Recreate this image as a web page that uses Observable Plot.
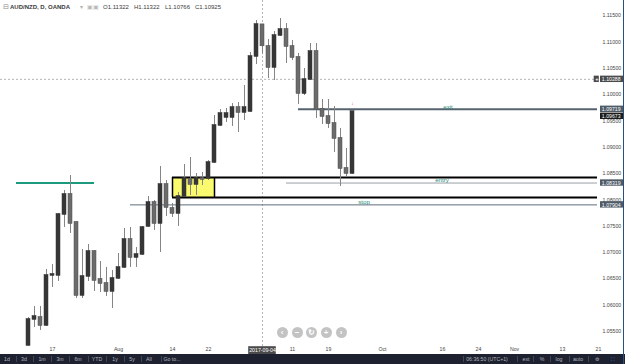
<!DOCTYPE html>
<html><head><meta charset="utf-8">
<script src="https://cdn.jsdelivr.net/npm/d3@7"></script>
<script src="https://cdn.jsdelivr.net/npm/@observablehq/plot@0.6"></script>
<style>
body{margin:0;background:#fff;font-family:"Liberation Sans",Arial,sans-serif;}
#wrap{position:relative;width:625px;height:364px;overflow:hidden;background:#fff;}
#chart svg{display:block;}
.lg{position:absolute;top:4px;font-size:6px;color:#3a3a3a;white-space:nowrap;line-height:7px;}
.nav{position:absolute;top:327px;width:11px;height:11px;border-radius:50%;background:#c3c3c3;color:#fff;font-size:8px;font-weight:bold;line-height:11px;text-align:center;}
#toolbar{position:absolute;left:0;top:354px;width:625px;height:10px;background:#1e2230;}
.tb{position:absolute;top:2px;font-size:5.2px;color:#b2b5be;transform:translateX(-50%);white-space:nowrap;line-height:6px;}
.sep{position:absolute;top:2px;width:1px;height:6px;background:#434651;}
#edge{position:absolute;left:623px;top:0;width:1px;height:364px;background:#27507c;}
</style></head>
<body><div id="wrap"><div id="chart"></div></div>
<script>
// ---- data (AUD/NZD, D, OANDA) ----
const dates = ["2017-07-11","2017-07-12","2017-07-13","2017-07-14","2017-07-17","2017-07-18","2017-07-19","2017-07-20","2017-07-21",
"2017-07-24","2017-07-25","2017-07-26","2017-07-27","2017-07-28","2017-07-31","2017-08-01","2017-08-02","2017-08-03","2017-08-04",
"2017-08-07","2017-08-08","2017-08-09","2017-08-10","2017-08-11","2017-08-14","2017-08-15","2017-08-16","2017-08-17","2017-08-18",
"2017-08-21","2017-08-22","2017-08-23","2017-08-24","2017-08-25","2017-08-28","2017-08-29","2017-08-30","2017-08-31","2017-09-01",
"2017-09-04","2017-09-05","2017-09-06","2017-09-07","2017-09-08","2017-09-11","2017-09-12","2017-09-13","2017-09-14","2017-09-15",
"2017-09-18","2017-09-19","2017-09-20","2017-09-21","2017-09-22","2017-09-25"];
const open  = [1.05235,1.05728,1.05766,1.05614,1.06564,1.06564,1.07722,1.08102,1.07570,
1.06184,1.06545,1.07019,1.06488,1.06412,1.06260,1.06507,1.06716,1.07247,1.06905,
1.06962,1.07494,1.07950,1.07551,1.08291,1.07836,1.07741,1.08064,1.08386,1.08291,
1.08405,1.08405,1.08709,1.09412,1.09563,1.09563,1.09753,1.09658,1.09677,1.10722,
1.11322,1.10911,1.10513,1.11120,1.11234,1.10911,1.10703,1.10019,1.10285,1.10817,
1.09715,1.09582,1.09449,1.09165,1.08595,1.08500];
const high  = [1.05766,1.05975,1.05975,1.06678,1.06772,1.07741,1.08177,1.08462,1.07589,
1.07057,1.07152,1.07038,1.06829,1.06716,1.06659,1.06981,1.07456,1.07475,1.07095,
1.07494,1.08064,1.07988,1.08633,1.08367,1.07931,1.08139,1.08671,1.08804,1.08500,
1.08519,1.08747,1.09601,1.09715,1.09734,1.09829,1.09848,1.10171,1.10798,1.11405,
1.11322,1.11044,1.11196,1.11443,1.11348,1.11025,1.10779,1.10494,1.10968,1.10968,
1.09905,1.09905,1.09772,1.09355,1.08975,1.09673];
const low   = [1.05216,1.05576,1.05520,1.05595,1.06336,1.06450,1.07475,1.07361,1.06127,
1.06127,1.06450,1.06260,1.06241,1.06165,1.05937,1.06488,1.06697,1.06716,1.06716,
1.06943,1.07475,1.07418,1.07000,1.07684,1.07665,1.07494,1.08045,1.08083,1.08083,
1.08272,1.08367,1.08690,1.09393,1.09468,1.09393,1.09279,1.09506,1.09658,1.10570,
1.10766,1.10304,1.10266,1.11101,1.10589,1.10646,1.09810,1.09981,1.10266,1.09544,
1.09430,1.09355,1.08899,1.08253,1.08443,1.08481];
const close = [1.05728,1.05785,1.05614,1.06564,1.06583,1.07722,1.08102,1.07551,1.06184,
1.06545,1.07019,1.06469,1.06412,1.06260,1.06507,1.06716,1.07247,1.06905,1.06962,
1.07475,1.07950,1.07551,1.08291,1.07855,1.07741,1.08064,1.08405,1.08291,1.08405,
1.08386,1.08709,1.09412,1.09639,1.09639,1.09753,1.09658,1.09753,1.10722,1.11329,
1.10925,1.10513,1.11120,1.11234,1.10911,1.10703,1.10019,1.10285,1.10817,1.09715,
1.09582,1.09449,1.09165,1.08595,1.08500,1.09673];

const xTickDates  = ["2017-07-17","2017-08-01","2017-08-14","2017-08-22","2017-09-11","2017-09-19","2017-10-02","2017-10-16","2017-10-24","2017-11-01","2017-11-13","2017-11-21"];
const xTickLabels = ["17","Aug","14","22","11","19","Oct","16","24","Nov","13","21"];
const yTickValues = [1.055,1.060,1.065,1.070,1.075,1.080,1.085,1.090,1.095,1.100,1.105,1.110,1.115];

const levelNames  = ["exit","entry","stop"];
const levelPrices = [1.09719,1.08319,1.07904];
const levelStarts = ["2017-09-12","2017-09-08","2017-08-03"];
const zoneDates   = ["2017-08-14","2017-08-23"];
const zonePrices  = [1.08045,1.08424];
const markDates   = ["2017-07-07","2017-07-26"];
const markPrice   = 1.08319;
const crossDate   = "2017-09-04";
const crossPrice  = 1.10288;
const crossLabel  = "2017-09-04";
const lastPrice   = 1.09673;
const legendOHLC  = ["O1.11322","H1.11322","L1.10766","C1.10925"];

// ---- helpers ----
const base = Date.UTC(2017,6,17); // Monday
function tIndex(s){ // trading-day index (weekdays only)
  const n = Math.round((Date.parse(s+"T00:00:00Z")-base)/864e5);
  const w = Math.floor(n/7), r = n-7*w;
  return w*5 + Math.min(r,5);
}
const rows = dates.map((d,k)=>({i:tIndex(d), o:open[k], h:high[k], l:low[k], c:close[k]}));
const levels = levelNames.map((n,k)=>({name:n, price:levelPrices[k], start:tIndex(levelStarts[k])}));
const xTicks = xTickDates.map(tIndex);

const W = 625, H = 354, MB = 8, MR = 28;
const xDomain = [-8.6667, 90.8333];
const yDomain = [1.05215, 1.11785];
const pxY = (H-MB)/(yDomain[1]-yDomain[0]);
const xMax = xDomain[1];
const FS = 5.2;

// price-axis labels, pushed apart like the platform does
const tags = [
  {price:crossPrice, fill:"#4b4b4b", plus:true},
  {price:levelPrices[0], fill:"#4f5c68"},
  {price:lastPrice, fill:"#1c1c1c"},
  {price:levelPrices[1], fill:"#4f5c68"},
  {price:levelPrices[2], fill:"#4f5c68"}
].sort((a,b)=>b.price-a.price);
let prev = Infinity;
for (const t of tags){ let d=t.price; if ((prev-d)*pxY < 7) d = prev - 7/pxY; t.disp=d; prev=d; }
const tagH = 3.2/pxY;

const up = "#363636", down = "#6b6b6b";
const levelStyle = {exit:{stroke:"#56636e", w:2}, entry:{stroke:"#9aa1a8", w:1}, stop:{stroke:"#5d6e7c", w:1}};
const crossI = tIndex(crossDate);
const last = rows[rows.length-1];

const chart = Plot.plot({
  width: W, height: H,
  marginTop: 0, marginLeft: 0, marginRight: MR, marginBottom: MB,
  style: {fontFamily: "'Liberation Sans', Arial, sans-serif", fontSize: FS+"px", color: "#4a4a4a", background: "#fff", overflow: "visible"},
  x: {domain: xDomain, axis: null},
  y: {domain: yDomain, axis: null},
  marks: [
    // crosshair
    Plot.ruleY([crossPrice], {stroke:"#a0a0a0", strokeWidth:0.8, strokeDasharray:"2,2"}),
    Plot.ruleX([crossI], {stroke:"#a0a0a0", strokeWidth:0.8, strokeDasharray:"2,2"}),
    // demand zone
    Plot.rect([0], {x1: tIndex(zoneDates[0]), x2: tIndex(zoneDates[1]), y1: zonePrices[0], y2: zonePrices[1], fill:"#fafa6e"}),
    Plot.ruleY(zonePrices, {x1: tIndex(zoneDates[0]), x2: xMax, stroke:"#000", strokeWidth:2}),
    Plot.ruleX([tIndex(zoneDates[0]), tIndex(zoneDates[1])], {y1: zonePrices[0], y2: zonePrices[1], stroke:"#000", strokeWidth:1.5}),
    // earlier level
    Plot.ruleY([markPrice], {x1: tIndex(markDates[0]), x2: tIndex(markDates[1]), stroke:"#1c9a7e", strokeWidth:2}),
    // trade levels
    Plot.ruleY(levels, {y:"price", x1:"start", x2: xMax, stroke: d=>levelStyle[d.name].stroke, strokeWidth: d=>levelStyle[d.name].w}),
    Plot.text(levels, {x: d=>(d.start+xMax)/2, y:"price", text:"name", fill:"#2a8f7a", fontSize:6.2, lineAnchor:"bottom", dy:-0.6}),
    // candles
    Plot.ruleX(rows, {x:"i", y1:"l", y2:"h", stroke:"#858585", strokeWidth:1}),
    Plot.rect(rows, {x1: d=>d.i-1/3, x2: d=>d.i+1/3, y1:"o", y2:"c", fill: d=>d.c>=d.o?up:down,
      stroke: d=>d.c>=d.o?up:"#4c4c4c", strokeWidth:0.5, insetTop:-0.5, insetBottom:-0.5}),
    Plot.text([last], {x:"i", y:"h", text:()=>"↓", fill:"#e0413a", fontSize:5, dy:-8}),
    // axes
    Plot.axisY(yTickValues, {anchor:"right", tickSize:0, tickPadding:5, tickFormat:d3.format(".5f"), fontSize:FS, color:"#454545", label:null}),
    Plot.axisX(xTicks, {anchor:"bottom", tickSize:0, tickPadding:1.2, tickFormat: i=>xTickLabels[xTicks.indexOf(i)], fontSize:FS, color:"#454545", label:null}),
    // price axis tags
    Plot.rect(tags, {x1: xMax+0.5, x2: xMax+4.5, y1: d=>d.disp-tagH, y2: d=>d.disp+tagH, fill:"fill"}),
    Plot.text(tags, {x: xMax+0.5, y:"disp", text: d=>d3.format(".5f")(d.price), fill:"#fff", fontSize:FS, textAnchor:"start", dx:1.3}),
    Plot.rect(tags.filter(d=>d.plus), {x1: xMax-0.55, x2: xMax+0.3, y1: d=>d.disp-tagH, y2: d=>d.disp+tagH, fill:"#4b4b4b"}),
    Plot.text(tags.filter(d=>d.plus), {x: xMax-0.12, y:"disp", text:()=>"+", fill:"#fff", fontSize:5.5, fontWeight:"bold"}),
    // crosshair date tag
    Plot.rect([0], {x1: crossI-2.3, x2: crossI+2.3, y1: yDomain[0]-0.2/pxY, y2: yDomain[0]-8/pxY, fill:"#4b4b4b"}),
    Plot.text([crossLabel], {x: crossI, y: yDomain[0]-4.1/pxY, text: d=>d, fill:"#fff", fontSize:FS})
  ]
});
const wrap = document.getElementById("wrap");
document.getElementById("chart").appendChild(chart);

// legend overlay (top-left)
function addDiv(cls, left, html, extra){ const e=document.createElement("div"); e.className=cls; e.style.left=left+"px"; e.innerHTML=html; if(extra) Object.assign(e.style, extra); wrap.appendChild(e); return e; }
addDiv("lg", 3, "&#8863;", {color:"#8a8a8a", top:"3px", fontSize:"6.5px"});
addDiv("lg", 10, "AUD/NZD, D, OANDA", {fontWeight:"bold"});
addDiv("lg", 80, "&#9662;", {color:"#b0b0b0"});
addDiv("lg", 87, "&#9635;&#9635;", {color:"#b8b8b8", fontSize:"5.5px"});
[103,134,165,195].forEach((x,k)=>addDiv("lg", x, legendOHLC[k]));

// navigation buttons
[["&#8249;",282],["&#8722;",297],["&#8635;",311],["+",326],["&#8250;",341]].forEach(([g,x])=>{
  addDiv("nav", x-5.5, g);
});

// bottom toolbar
const tb = document.createElement("div"); tb.id="toolbar"; wrap.appendChild(tb);
const leftItems = [["1d",7],["3d",24],["1m",42],["3m",60],["6m",78],["YTD",97],["1y",115],["5y",132],["All",149],["Go to...",172]];
leftItems.forEach(([t,x],k)=>{ const s=document.createElement("div"); s.className="tb"; s.style.left=x+"px"; s.textContent=t; tb.appendChild(s);
  if(k<leftItems.length-1){ const p=document.createElement("div"); p.className="sep"; p.style.left=(x+(leftItems[k+1][1]-x)/2)+"px"; tb.appendChild(p);} });
[["06:36:50 (UTC+1)",487],["ext",526],["%",542],["log",559],["auto",578],["&#9881;",597]].forEach(([t,x],k)=>{
  const s=document.createElement("div"); s.className="tb"; s.style.left=x+"px"; s.innerHTML=t; tb.appendChild(s);
  const p=document.createElement("div"); p.className="sep"; p.style.left=(x-(k==0?24:9))+"px"; tb.appendChild(p);
});
const fs=document.createElement("div"); fs.className="tb"; fs.style.left="613px"; fs.style.color="#2f7bd9"; fs.innerHTML="&#9974;"; tb.appendChild(fs);
const edge=document.createElement("div"); edge.id="edge"; wrap.appendChild(edge);
</script>
</body></html>
